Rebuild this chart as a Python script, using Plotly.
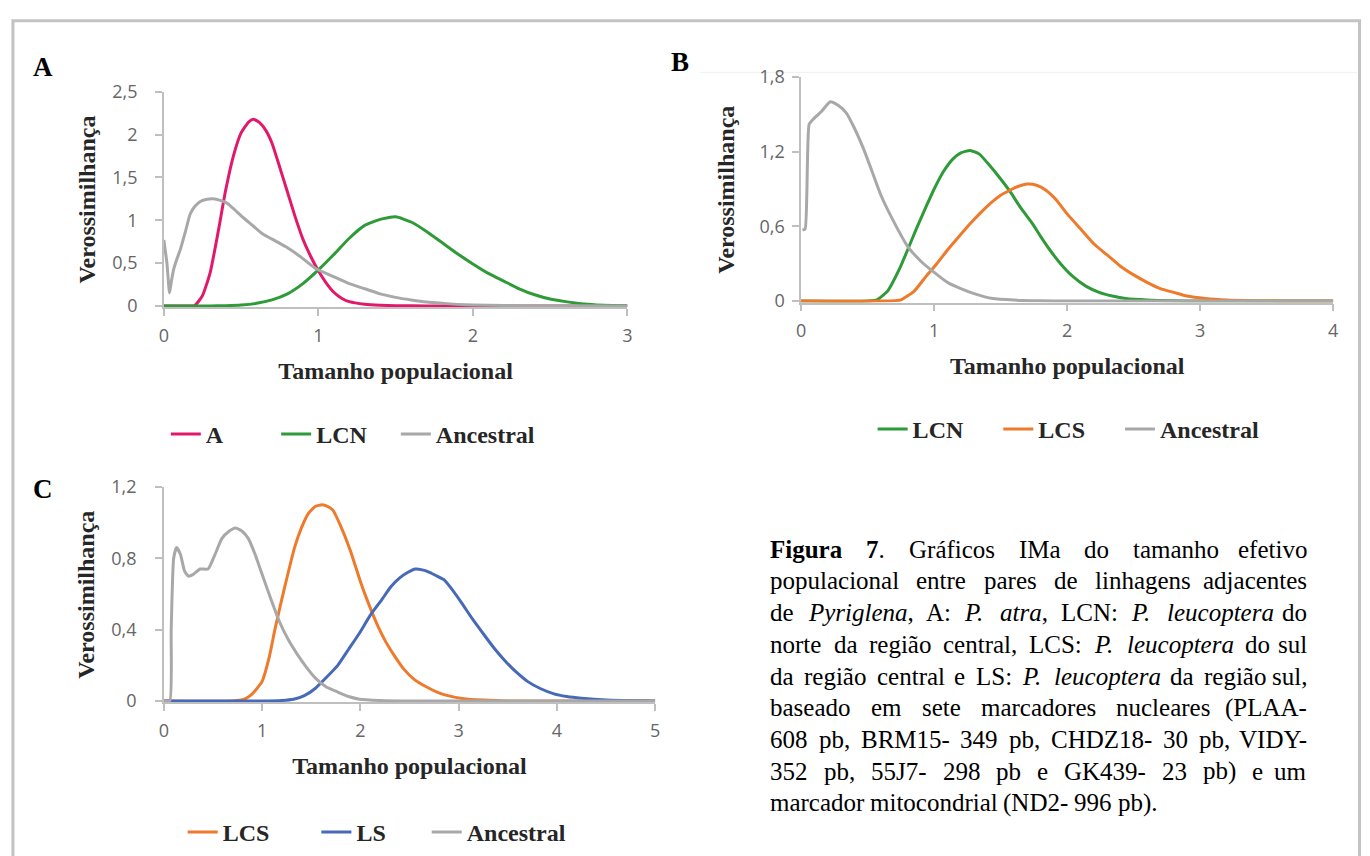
import plotly.graph_objects as go

W, H = 1370, 856

# ---------------- DATA ----------------
# Panel A
a_A_x = [0, 0.1, 0.2, 0.25, 0.3, 0.35, 0.4, 0.45, 0.5, 0.55, 0.58, 0.62, 0.66, 0.7, 0.75, 0.8, 0.85, 0.9,
         0.95, 1.0, 1.05, 1.1, 1.15, 1.2, 1.3, 1.4, 1.5, 1.7, 2.0, 2.5, 3.0]
a_A_y = [0, 0, 0.005, 0.12, 0.39, 0.85, 1.35, 1.75, 2.02, 2.15, 2.18, 2.14, 2.05, 1.9, 1.62, 1.33, 1.04, 0.78,
         0.58, 0.41, 0.27, 0.16, 0.09, 0.05, 0.02, 0.008, 0.003, 0, 0, 0, 0]
a_LCN_x = [0, 0.3, 0.4, 0.5, 0.6, 0.7, 0.8, 0.9, 1.0, 1.1, 1.2, 1.3, 1.4, 1.5, 1.6, 1.7, 1.8, 1.9, 2.0, 2.1,
           2.2, 2.3, 2.4, 2.5, 2.6, 2.7, 2.8, 2.9, 3.0]
a_LCN_y = [0, 0, 0.003, 0.01, 0.03, 0.07, 0.14, 0.26, 0.42, 0.6, 0.79, 0.94, 1.01, 1.04, 0.98, 0.87, 0.74, 0.61,
           0.49, 0.38, 0.29, 0.2, 0.13, 0.08, 0.05, 0.025, 0.012, 0.005, 0.002]
a_Anc_x = [0, 0.02, 0.037, 0.05, 0.064, 0.085, 0.107, 0.14, 0.17, 0.2, 0.236, 0.28, 0.32, 0.36, 0.41, 0.46,
           0.514, 0.58, 0.64, 0.7, 0.79, 0.88, 0.98, 1.1, 1.2, 1.3, 1.4, 1.5, 1.6, 1.7, 1.8, 1.9, 2.0, 2.2,
           2.5, 3.0]
a_Anc_y = [0.77, 0.5, 0.15, 0.3, 0.43, 0.55, 0.66, 0.87, 1.07, 1.16, 1.22, 1.245, 1.25, 1.235, 1.2, 1.12,
           1.03, 0.93, 0.84, 0.78, 0.69, 0.58, 0.44, 0.34, 0.26, 0.2, 0.14, 0.1, 0.07, 0.045, 0.03, 0.018,
           0.01, 0.004, 0.001, 0]

# Panel B
b_LCN_x = [0, 0.5, 0.57, 0.65, 0.74, 0.8, 0.87, 0.94, 1.0, 1.07, 1.14, 1.2, 1.27, 1.34, 1.4, 1.5, 1.57, 1.65,
           1.74, 1.8, 1.87, 1.95, 2.04, 2.14, 2.24, 2.34, 2.44, 2.6, 2.8, 3.0, 4.0]
b_LCN_y = [0, 0, 0.01, 0.08, 0.26, 0.41, 0.59, 0.76, 0.9, 1.04, 1.14, 1.19, 1.21, 1.18, 1.11, 0.98, 0.88, 0.75,
           0.62, 0.52, 0.41, 0.3, 0.2, 0.12, 0.07, 0.04, 0.02, 0.008, 0.002, 0, 0]
b_LCS_x = [0, 0.6, 0.75, 0.85, 0.94, 1.02, 1.1, 1.18, 1.27, 1.35, 1.44, 1.5, 1.57, 1.63, 1.7, 1.77, 1.84, 1.92,
           2.0, 2.1, 2.2, 2.3, 2.4, 2.5, 2.6, 2.7, 2.8, 2.9, 3.04, 3.2, 3.4, 3.6, 4.0]
b_LCS_y = [0, 0, 0.01, 0.08, 0.2, 0.3, 0.41, 0.51, 0.62, 0.71, 0.8, 0.85, 0.89, 0.92, 0.94, 0.93, 0.89, 0.81,
           0.7, 0.58, 0.46, 0.37, 0.28, 0.21, 0.15, 0.1, 0.07, 0.04, 0.02, 0.008, 0.003, 0.001, 0]
b_Anc_x = [0.01, 0.03, 0.06, 0.09, 0.15, 0.22, 0.28, 0.34, 0.4, 0.47, 0.53, 0.6, 0.7, 0.8, 0.9, 1.0, 1.1, 1.2,
           1.3, 1.44, 1.6, 1.8, 2.0, 2.5, 3.0, 4.0]
b_Anc_y = [0.57, 0.58, 1.42, 1.46, 1.52, 1.6, 1.57, 1.51, 1.39, 1.22, 1.05, 0.85, 0.63, 0.44, 0.32, 0.23,
           0.15, 0.1, 0.06, 0.02, 0.008, 0.002, 0, 0, 0, 0]

# Panel C
c_LCS_x = [0, 0.7, 0.82, 0.9, 1.0, 1.07, 1.13, 1.2, 1.27, 1.33, 1.4, 1.47, 1.54, 1.61, 1.67, 1.72, 1.8, 1.9,
           2.0, 2.08, 2.17, 2.26, 2.35, 2.44, 2.55, 2.67, 2.78, 2.89, 3.05, 3.25, 3.5, 5.0]
c_LCS_y = [0, 0, 0.01, 0.04, 0.11, 0.24, 0.4, 0.57, 0.73, 0.86, 0.97, 1.05, 1.09, 1.1, 1.09, 1.07, 0.98, 0.84,
           0.67, 0.55, 0.43, 0.33, 0.25, 0.18, 0.12, 0.08, 0.05, 0.03, 0.013, 0.005, 0, 0]
c_LS_x = [0, 1.0, 1.2, 1.32, 1.43, 1.54, 1.65, 1.77, 1.88, 1.99, 2.1, 2.22, 2.31, 2.4, 2.48, 2.56, 2.63, 2.71,
          2.78, 2.85, 2.94, 3.03, 3.14, 3.26, 3.37, 3.48, 3.59, 3.7, 3.83, 3.97, 4.1, 4.25, 4.5, 5.0]
c_LS_y = [0, 0, 0.003, 0.01, 0.03, 0.07, 0.13, 0.2, 0.29, 0.38, 0.48, 0.57, 0.64, 0.69, 0.72, 0.74, 0.735,
          0.72, 0.7, 0.68, 0.62, 0.55, 0.46, 0.37, 0.29, 0.22, 0.16, 0.11, 0.07, 0.04, 0.025, 0.015, 0.005, 0]
c_Anc_x = [0, 0.06, 0.075, 0.1, 0.13, 0.17, 0.21, 0.25, 0.3, 0.37, 0.45, 0.52, 0.59, 0.66, 0.73, 0.8, 0.86,
           0.93, 1.0, 1.09, 1.18, 1.27, 1.36, 1.45, 1.54, 1.65, 1.77, 1.88, 1.99, 2.2, 2.5, 3.0, 5.0]
c_Anc_y = [0, 0, 0.4, 0.8, 0.86, 0.82, 0.73, 0.7, 0.71, 0.74, 0.74, 0.82, 0.91, 0.95, 0.97, 0.95, 0.91, 0.82,
           0.71, 0.57, 0.44, 0.34, 0.26, 0.19, 0.13, 0.08, 0.05, 0.025, 0.01, 0.003, 0, 0, 0]

# ticks
a_xticks = [0, 1, 2, 3]
a_yticks = [0, 0.5, 1, 1.5, 2, 2.5]
a_yticktext = ["0", "0,5", "1", "1,5", "2", "2,5"]
b_xticks = [0, 1, 2, 3, 4]
b_yticks = [0, 0.6, 1.2, 1.8]
b_yticktext = ["0", "0,6", "1,2", "1,8"]
c_xticks = [0, 1, 2, 3, 4, 5]
c_yticks = [0, 0.4, 0.8, 1.2]
c_yticktext = ["0", "0,4", "0,8", "1,2"]

x_title = "Tamanho populacional"
y_title = "Verossimilhança"

caption_lines = [
    [("b", "Figura"), ("b", "7", "."), ("r", "Gráficos"), ("r", "IMa"), ("r", "do"), ("r", "tamanho"),
     ("r", "efetivo")],
    [("r", "populacional"), ("r", "entre"), ("r", "pares"), ("r", "de"), ("r", "linhagens"), ("r", "adjacentes")],
    [("r", "de"), ("i", "Pyriglena", ","), ("r", "A:"), ("i", "P."), ("i", "atra", ","), ("r", "LCN:"), ("i", "P."),
     ("i", "leucoptera"), ("r", "do")],
    [("r", "norte"), ("r", "da"), ("r", "região"), ("r", "central,"), ("r", "LCS:"), ("i", "P."), ("i", "leucoptera"),
     ("r", "do"), ("r", "sul")],
    [("r", "da"), ("r", "região"), ("r", "central"), ("r", "e"), ("r", "LS:"), ("i", "P."), ("i", "leucoptera"),
     ("r", "da"), ("r", "região"), ("r", "sul,")],
    [("r", "baseado"), ("r", "em"), ("r", "sete"), ("r", "marcadores"), ("r", "nucleares"), ("r", "(PLAA-")],
    [("r", "608"), ("r", "pb,"), ("r", "BRM15-"), ("r", "349"), ("r", "pb,"), ("r", "CHDZ18-"), ("r", "30"),
     ("r", "pb,"), ("r", "VIDY-")],
    [("r", "352"), ("r", "pb,"), ("r", "55J7-"), ("r", "298"), ("r", "pb"), ("r", "e"), ("r", "GK439-"), ("r", "23"),
     ("r", "pb)"), ("r", "e"), ("r", "um")],
    [("r", "marcador"), ("r", "mitocondrial"), ("r", "(ND2-"), ("r", "996"), ("r", "pb).")],
]

# ---------------- STYLE ----------------
PINK = "#E2186B"
GREEN = "#2E9A38"
GRAY = "#A8A8A8"
ORANGE = "#EE7A2C"
BLUE = "#4669B8"
AXC = "#BFBFBF"
TICKFONT = dict(family="Open Sans", size=18, color="#666666")
TITLEFONT = dict(family="Liberation Serif", size=24, color="#262626", weight="bold")
LW = 3
NB = "\u00a0"

fig = go.Figure()


def add(x, y, name, color, xa, ya, leg, pad):
    fig.add_trace(go.Scatter(x=x, y=y, name=name + NB * pad, mode="lines",
                             line=dict(color=color, width=LW, shape="spline", smoothing=0.5),
                             xaxis=xa, yaxis=ya, legend=leg, hovertemplate=name + ": %{x}, %{y}<extra></extra>"))


add(a_A_x, a_A_y, "A", PINK, "x", "y", "legend", 8)
add(a_LCN_x, a_LCN_y, "LCN", GREEN, "x", "y", "legend", 4)
add(a_Anc_x, a_Anc_y, "Ancestral", GRAY, "x", "y", "legend", 0)

add(b_LCN_x, b_LCN_y, "LCN", GREEN, "x2", "y2", "legend2", 5)
add(b_LCS_x, b_LCS_y, "LCS", ORANGE, "x2", "y2", "legend2", 5)
add(b_Anc_x, b_Anc_y, "Ancestral", GRAY, "x2", "y2", "legend2", 0)

add(c_LCS_x, c_LCS_y, "LCS", ORANGE, "x3", "y3", "legend3", 7)
add(c_LS_x, c_LS_y, "LS", BLUE, "x3", "y3", "legend3", 6)
add(c_Anc_x, c_Anc_y, "Ancestral", GRAY, "x3", "y3", "legend3", 0)


def px_x(p):
    return p / W


def px_y(p):
    return 1 - p / H


TICKLEN = 7


def xax(x0, x1, rng, ticks, y_anchor, title_standoff):
    return dict(domain=[px_x(x0), px_x(x1)], anchor=y_anchor, range=rng, tickvals=ticks,
                ticktext=[str(t) for t in ticks], showgrid=False, zeroline=False,
                showline=True, linecolor=AXC, linewidth=1.5, ticks="outside", ticklen=TICKLEN,
                tickwidth=1.5, tickcolor=AXC, tickfont=TICKFONT, ticklabelstandoff=4,
                title=dict(text=x_title, font=TITLEFONT, standoff=title_standoff), fixedrange=True)


def yax(y0px, ytoppx, ymax, ticks, ticktext, x_anchor, lab_standoff, title_standoff):
    pad = 1.5 * ymax / (y0px - ytoppx)
    return dict(domain=[px_y(y0px + 1.5), px_y(ytoppx)], anchor=x_anchor, range=[-pad, ymax],
                tickvals=ticks, ticktext=ticktext, showgrid=False, zeroline=False,
                showline=True, linecolor=AXC, linewidth=1.5, ticks="outside", ticklen=TICKLEN,
                tickwidth=1.5, tickcolor=AXC, tickfont=TICKFONT, ticklabelstandoff=lab_standoff,
                title=dict(text=y_title, font=TITLEFONT, standoff=title_standoff), fixedrange=True)


def inner(over, anchor, rng, ticks, side):
    # overlay axis that draws the inner half of Excel-style "cross" tick marks
    return dict(overlaying=over, anchor=anchor, range=rng, tickvals=ticks, showticklabels=False,
                showgrid=False, zeroline=False, showline=False, ticks="inside", ticklen=TICKLEN,
                tickwidth=1.5, tickcolor=AXC, side=side, fixedrange=True)


legfont = dict(family="Liberation Serif", size=24, color="#262626", weight="bold")


def leg(xp, yp):
    return dict(orientation="h", x=px_x(xp), y=px_y(yp), xanchor="left", yanchor="middle",
                font=legfont, bgcolor="rgba(0,0,0,0)", itemclick=False, itemdoubleclick=False,
                tracegroupgap=0)


ya = yax(301, 81, 2.5, a_yticks, a_yticktext, "x", 14, 10)
yb = yax(296, 65.7, 1.8, b_yticks, b_yticktext, "x2", 4, 18)
yc = yax(707, 487, 1.2, c_yticks, c_yticktext, "x3", 15, 10)

fig.update_layout(
    width=W, height=H, margin=dict(l=0, r=0, t=0, b=0),
    paper_bgcolor="white", plot_bgcolor="white", showlegend=True,
    xaxis=xax(160, 627, [0, 3], a_xticks, "y", 16),
    yaxis=ya,
    xaxis2=xax(802, 1338, [0, 4], b_xticks, "y2", 16),
    yaxis2=yb,
    xaxis3=xax(160, 655, [0, 5], c_xticks, "y3", 16),
    yaxis3=yc,
    xaxis4=inner("x", "y", [0, 3], a_xticks, "bottom"),
    yaxis4=inner("y", "x", ya["range"], a_yticks, "left"),
    xaxis5=inner("x2", "y2", [0, 4], b_xticks, "bottom"),
    yaxis5=inner("y2", "x2", yb["range"], b_yticks, "left"),
    xaxis6=inner("x3", "y3", [0, 5], c_xticks, "bottom"),
    yaxis6=inner("y3", "x3", yc["range"], c_yticks, "left"),
    legend=leg(162, 433),
    legend2=leg(874, 428),
    legend3=leg(179, 842),
)

# frame around the figure
fig.add_shape(type="rect", xref="paper", yref="paper", x0=px_x(8), x1=px_x(1364.5), y0=-0.05,
              y1=px_y(8), line=dict(color="#C3C3C3", width=3), fillcolor="rgba(0,0,0,0)", layer="below")
fig.add_shape(type="line", xref="paper", yref="paper", x0=px_x(700), x1=px_x(1362), y0=px_y(61),
              y1=px_y(61), line=dict(color="#F0F0F0", width=1), layer="below")

# panel letters
for lab, xp, yp in [("A", 38, 55), ("B", 680, 50), ("C", 38, 489)]:
    fig.add_annotation(text=f"<b>{lab}</b>", x=px_x(xp), y=px_y(yp), xref="paper", yref="paper",
                       showarrow=False, xanchor="center", yanchor="middle",
                       font=dict(family="Liberation Serif", size=27, color="black"))

# ---------------- caption: justified text laid out with Times metrics ----------------
REG = {" ": 250, "(": 333, ")": 333, ",": 250, "-": 333, ".": 250, ":": 278,
       "A": 722, "B": 667, "C": 667, "D": 722, "G": 722, "H": 722, "I": 333, "J": 389, "K": 722, "L": 611,
       "M": 889, "N": 722, "P": 556, "R": 667, "S": 556, "V": 722, "Y": 722, "Z": 611,
       "a": 444, "b": 500, "c": 444, "d": 500, "e": 444, "f": 333, "g": 500, "h": 500, "i": 278, "j": 278,
       "k": 500, "l": 278, "m": 778, "n": 500, "o": 500, "p": 500, "r": 333, "s": 389, "t": 278, "u": 500,
       "v": 500, "x": 500, "y": 500, "á": 444, "ã": 444, "ç": 444}
for d in "0123456789":
    REG[d] = 500
ITA = {"P": 611, ".": 250, "a": 500, "c": 444, "e": 444, "g": 500, "i": 278, "l": 278, "n": 500, "o": 500,
       "p": 500, "r": 389, "t": 278, "u": 500, "y": 444}
BOLD = {"F": 611, "i": 278, "g": 500, "u": 556, "r": 444, "a": 500, "7": 500}
TABLES = {"r": REG, "i": ITA, "b": BOLD}

CAP_SIZE = 25
CAP_LEFT, CAP_RIGHT = 769, 1314
CAP_Y0, CAP_DY = 551, 32.6


def word_w(tok):
    style, text = tok[0], tok[1]
    w = sum(TABLES[style].get(ch, 500) for ch in text)
    if len(tok) > 2:
        w += sum(REG.get(ch, 500) for ch in tok[2])
    return w * CAP_SIZE / 1000.0


def word_html(tok):
    style, text = tok[0], tok[1]
    t = text if style == "r" else f"<{style}>{text}</{style}>"
    if len(tok) > 2:
        t += tok[2]
    return t


capfont = dict(family="Liberation Serif", size=CAP_SIZE, color="black")
n_lines = len(caption_lines)
for li, words in enumerate(caption_lines):
    yp = CAP_Y0 + li * CAP_DY
    widths = [word_w(t) for t in words]
    space = REG[" "] * CAP_SIZE / 1000.0
    if li < n_lines - 1 and len(words) > 1:
        space = (CAP_RIGHT - CAP_LEFT - sum(widths)) / (len(words) - 1)
    xcur = CAP_LEFT
    for k, (tok, w) in enumerate(zip(words, widths)):
        last = (k == len(words) - 1) and li < n_lines - 1
        fig.add_annotation(text=word_html(tok), x=px_x(CAP_RIGHT if last else xcur), y=px_y(yp),
                           xref="paper", yref="paper", showarrow=False,
                           xanchor="right" if last else "left", yanchor="middle", font=capfont)
        xcur += w + space

fig.write_html("out.html")
